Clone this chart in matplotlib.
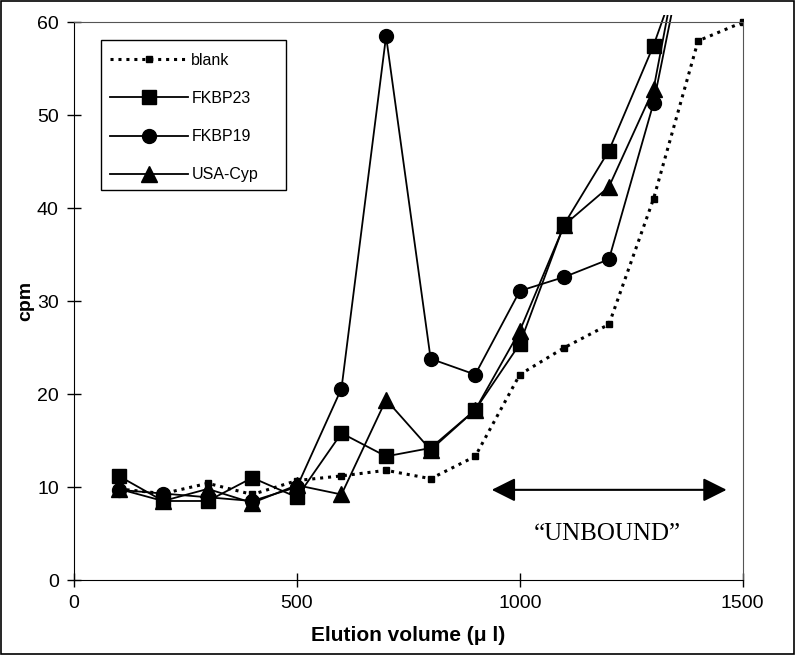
import matplotlib
matplotlib.use('Agg')
import matplotlib.pyplot as plt
from matplotlib.patches import Rectangle

plt.rcParams['font.family'] = ['Liberation Sans', 'DejaVu Sans']

# elution volumes (ul)
volume = [100, 200, 300, 400, 500, 600, 700, 800, 900, 1000, 1100, 1200, 1300, 1400, 1500]
volume_s = volume[:14]

blank = [9.8, 9.3, 10.4, 9.2, 10.7, 11.2, 11.8, 10.9, 13.3, 22.1, 25.0, 27.5, 41.0, 58.0, 60.0]
fkbp23 = [11.2, 8.5, 8.5, 11.0, 8.9, 15.8, 13.3, 14.2, 18.3, 25.4, 38.3, 46.2, 57.5, 71.0]
fkbp19 = [9.7, 9.3, 8.9, 8.5, 10.0, 20.6, 58.5, 23.8, 22.1, 31.1, 32.6, 34.5, 51.3, 75.0]
usacyp = [9.8, 8.5, 9.8, 8.3, 10.2, 9.2, 19.4, 14.0, 18.3, 26.8, 38.2, 42.3, 52.8, 78.0]

fig = plt.figure(figsize=(7.96, 6.55), dpi=100)
ax = fig.add_axes([0.093, 0.1145, 0.84, 0.8515])

lines = []
lines += ax.plot(volume, blank, color='black', lw=2.2, linestyle=(0, (1.0, 1.6)),
                 marker='s', markersize=4, label='blank')
lines += ax.plot(volume_s, fkbp23, color='black', lw=1.3, marker='s', markersize=10, label='FKBP23')
lines += ax.plot(volume_s, fkbp19, color='black', lw=1.3, marker='o', markersize=10, label='FKBP19')
lines += ax.plot(volume_s, usacyp, color='black', lw=1.3, marker='^', markersize=11, label='USA-Cyp')

# lines run a little past the top of the plot area, like the original
for ln in lines:
    ln.set_clip_path(Rectangle((0, -0.02), 1, 1.033, transform=ax.transAxes))

ax.set_xlim(0, 1500)
ax.set_ylim(0, 60)
ax.set_xticks([0, 500, 1000, 1500])
ax.set_yticks(range(0, 61, 10))
ax.tick_params(direction='inout', length=10, width=1, labelsize=14)
ax.tick_params(axis='x', pad=6)
ax.tick_params(axis='y', pad=6)
ax.set_xlabel('Elution volume (\u03bc l)', fontsize=15, fontweight='bold', labelpad=10)
ax.set_ylabel('cpm', fontsize=14, fontweight='bold', labelpad=2)

for side in ['left', 'bottom']:
    ax.spines[side].set_color('black')
for side in ['top', 'right']:
    ax.spines[side].set_color('#555555')

# unbound region arrow
ax.annotate('', xy=(1464, 9.7), xytext=(937, 9.7),
            arrowprops=dict(arrowstyle='<|-|>', color='black', lw=1.5,
                            mutation_scale=36, shrinkA=0, shrinkB=0))
ax.text(1197, 5.0, '\u201cUNBOUND\u201d', ha='center', va='center',
        fontsize=18, family='Liberation Serif')

# legend without its own frame; box drawn separately (wider on the right)
leg = ax.legend(loc='upper left', bbox_to_anchor=(0.127, 1 - 44 / 655),
                bbox_transform=fig.transFigure, fontsize=11.5, frameon=False,
                handlelength=4.9, labelspacing=1.45, borderpad=0.55,
                handletextpad=0.2, borderaxespad=0)
fig.patches.append(Rectangle((101 / 796, 1 - 190 / 655), 185 / 796, 150 / 655,
                             transform=fig.transFigure, fill=False,
                             edgecolor='black', lw=1.0, zorder=5))

fig.patches.append(Rectangle((0.001, 0.001), 0.997, 0.997, transform=fig.transFigure,
                             fill=False, edgecolor='black', lw=1.2))

fig.savefig('out.png', dpi=100)
